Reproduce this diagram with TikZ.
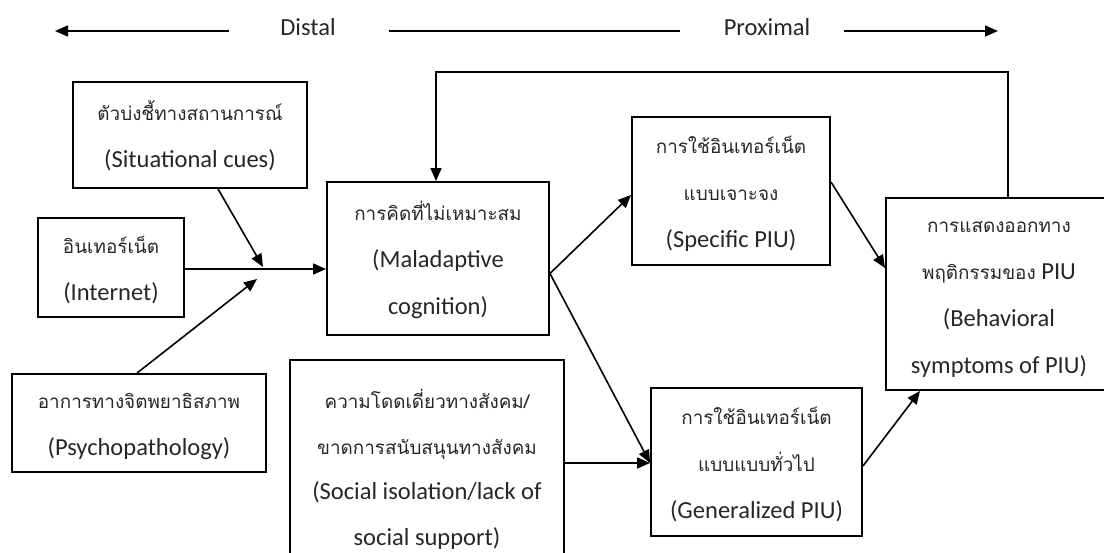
\documentclass[tikz,border=0pt]{standalone}
\usepackage{fontspec}
\setmainfont{Carlito}
\newfontfamily\thaifont[Script=Thai,Scale=0.77]{Loma}
\newcommand{\tha}[1]{{\thaifont #1}}
\newcommand{\boxtext}[1]{\begin{tabular}{@{}c@{}}#1\end{tabular}}
\usetikzlibrary{arrows.meta}
\begin{document}
\begin{tikzpicture}[x=1pt,y=-1pt,
  box/.style={draw, line width=1.9pt, inner sep=0pt, text=black!85,
    font=\fontsize{24.5}{47}\selectfont},
  lbl/.style={inner sep=0pt, text=black!85, font=\fontsize{24.5}{26}\selectfont},
  arr/.style={line width=1.6pt, -{Triangle[length=13pt,width=11pt]}},
  ln/.style={line width=1.6pt}]
\useasboundingbox (0,0) rectangle (1104,553);
\clip (0,0) rectangle (1104,553);

% top scale
\node[lbl] (dist) at (308,27) {Distal};
\node[lbl] (prox) at (767,27) {Proximal};
\coordinate (l1) at (229,31);
\coordinate (l0) at (55,31);
\coordinate (m0) at (389,31);
\coordinate (m1) at (680,31);
\coordinate (r0) at (844,31);
\coordinate (r1) at (998,31);
\draw[arr] (l1) -- (l0);
\draw[ln] (m0) -- (m1);
\draw[arr] (r0) -- (r1);

% boxes
\node[box, minimum width=234pt, minimum height=106pt] (sit) at (190,135)
  {\boxtext{\tha{ตัวบ่งชี้ทางสถานการณ์}\\(Situational cues)}};
\node[box, minimum width=146pt, minimum height=99pt] (int) at (111,267.5)
  {\boxtext{\tha{อินเทอร์เน็ต}\\(Internet)}};
\node[box, minimum width=254pt, minimum height=98pt] (psy) at (139,423)
  {\boxtext{\tha{อาการทางจิตพยาธิสภาพ}\\(Psychopathology)}};
\node[box, minimum width=222pt, minimum height=153pt] (mal) at (438,258.5)
  {\boxtext{\tha{การคิดที่ไม่เหมาะสม}\\(Maladaptive\\cognition)}};
\node[box, minimum width=274pt, minimum height=216pt, font=\fontsize{24.5}{45.5}\selectfont] (soc) at (427,468)
  {\boxtext{\tha{ความโดดเดี่ยวทางสังคม/}\\\tha{ขาดการสนับสนุนทางสังคม}\\(Social isolation/lack of\\social support)}};
\node[box, minimum width=198pt, minimum height=148pt] (spec) at (731,191)
  {\boxtext{\tha{การใช้อินเทอร์เน็ต}\\\tha{แบบเจาะจง}\\(Specific PIU)}};
\node[box, minimum width=211pt, minimum height=148pt] (gen) at (756.5,462)
  {\boxtext{\tha{การใช้อินเทอร์เน็ต}\\\tha{แบบแบบทั่วไป}\\(Generalized PIU)}};
\node[box, minimum width=226pt, minimum height=192pt] (beh) at (999,294)
  {\boxtext{\tha{การแสดงออกทาง}\\\tha{พฤติกรรมของ} PIU\\(Behavioral\\symptoms of PIU)}};

% junction points
\coordinate (j1) at (263,267);
\coordinate (j2) at (257,279);
\coordinate (fbc) at (436,72);

% connectors
\draw[arr] ([xshift=28pt]sit.south) -- (j1);
\draw[arr] ([xshift=-2pt]psy.north) -- (j2);
\draw[arr] ([yshift=-1.5pt]int.east) coordinate (ie) -- (ie -| mal.west);
\draw[arr] ([yshift=-15pt]mal.east) -- ([yshift=-4pt]spec.west);
\draw[arr] ([yshift=-15pt]mal.east) -- ([yshift=-1pt]gen.west);
\draw[arr] ([yshift=5pt]soc.east) coordinate (se) -- (se -| gen.west);
\draw[arr] ([yshift=9pt]spec.east) -- ([yshift=26pt]beh.west);
\draw[arr] ([yshift=-4pt]gen.east) -- ([xshift=-79pt]beh.south);
\draw[arr] ([xshift=9pt]beh.north) |- (fbc) -- (fbc |- mal.north);
\end{tikzpicture}
\end{document}
